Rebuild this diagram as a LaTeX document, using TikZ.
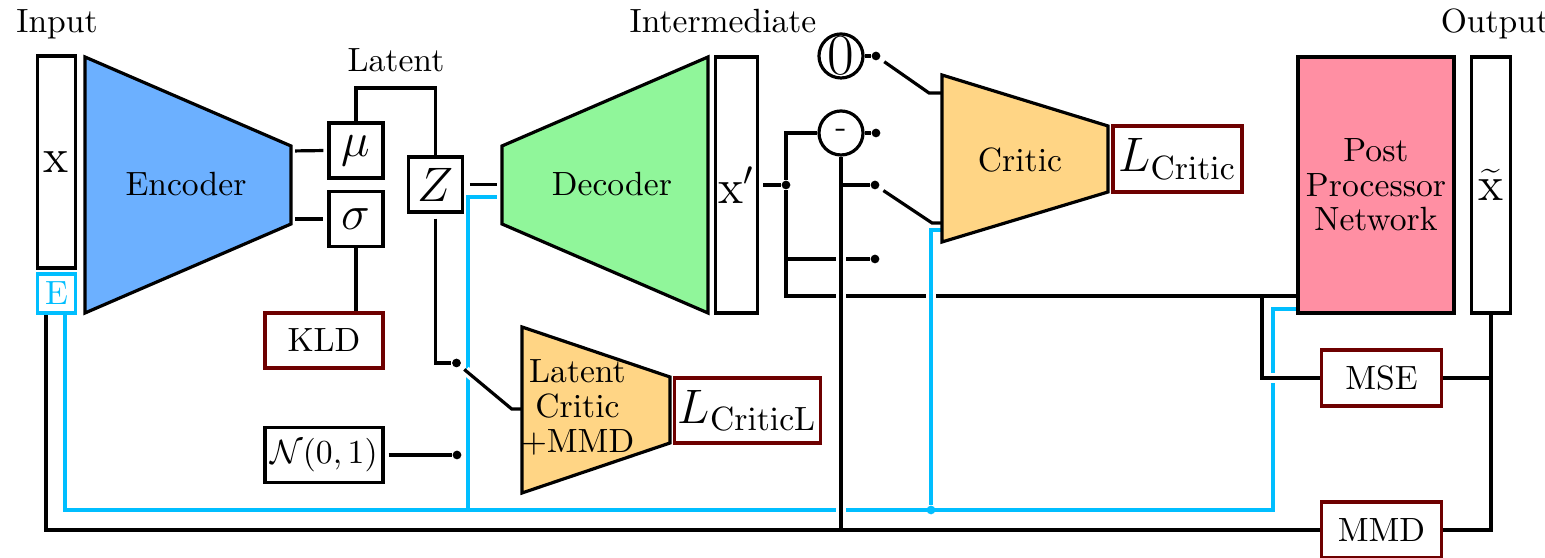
\documentclass[tikz,border=0pt]{standalone}
\usetikzlibrary{positioning}
\definecolor{encblue}{RGB}{108,176,255}
\definecolor{decgreen}{RGB}{144,246,154}
\definecolor{critorange}{RGB}{255,213,133}
\definecolor{pppink}{RGB}{255,143,163}
\definecolor{skyline}{RGB}{0,190,255}
\definecolor{lossred}{RGB}{110,0,0}
\pgfdeclarelayer{wires}
\pgfsetlayers{wires,main}
\begin{document}
\begin{tikzpicture}[x=0.2976pt, y=-0.2976pt]
    % 定义样式
    \tikzstyle{box}=[draw, line width=0.95pt, inner sep=1pt]
    \tikzstyle{varbox}=[box, minimum width=16.1pt, minimum height=16.4pt, font=\Large]
    \tikzstyle{lossbox}=[draw=lossred, line width=0.95pt, inner sep=1pt]
    \tikzstyle{block}=[draw, line width=0.95pt]
    \tikzstyle{opcirc}=[draw, line width=0.95pt, circle, minimum size=13.1pt, inner sep=-1pt]
    \tikzstyle{dot}=[circle, fill, inner sep=0pt, minimum size=2.6pt]
    \tikzstyle{heading}=[anchor=base]
    \tikzstyle{wire}=[line width=0.95pt]
    \tikzstyle{ewire}=[line width=0.95pt, skyline]
    \tikzstyle{bridge}=[preaction={draw=white, line width=2.8pt, shorten <=2pt, shorten >=2pt}]

    \useasboundingbox (0,0) rectangle (1545,558);

    % 输入
    \node[heading] (inlab) at (57,33) {Input};
    \node[box, minimum width=11.4pt, minimum height=63.1pt] (xin) at (56.5,162) {\raisebox{-3pt}{\Large x}};
    \node[box, draw=skyline, text=skyline, minimum width=11.4pt, minimum height=11.6pt] (eps) at (56.5,293.5) {E};
    \coordinate (xB) at (46,313);
    \coordinate (eB) at (65,313);

    % 编码器
    \draw[block, fill=encblue] (85,57) -- (291,146) -- (291,224) -- (85,313) -- cycle;
    \node (enc) at (186,184) {Encoder};
    \coordinate (encmu) at (291,151);
    \coordinate (encsig) at (291,219);

    % 隐变量
    \node[heading] (latlab) at (396,72) {Latent};
    \node[varbox] (mu) at (356,150.5) {$\mu$};
    \node[varbox] (sig) at (356,219) {$\sigma$};
    \node[varbox] (zz) at (435.5,184.5) {$Z$};
    \coordinate (latbend) at (396,88);
    \node[lossbox, minimum width=35.1pt, minimum height=16.4pt] (kld) at (324,340.5) {KLD};
    \node[box, minimum width=35.1pt, minimum height=16.4pt] (norm) at (324,455) {$\mathcal{N}(0,1)$};

    % 解码器
    \draw[block, fill=decgreen] (502,146) -- (708,57) -- (708,313) -- (502,224) -- cycle;
    \node (dec) at (612,184) {Decoder};
    \coordinate (decin) at (502,184.5);
    \coordinate (decE) at (502,197);
    \coordinate (ejoin) at (468,510);
    \node[heading] (midlab) at (723,33) {Intermediate};
    \node[box, minimum width=11.6pt, minimum height=76.2pt] (xmid) at (736.5,185) {\Large x$'$};

    % 判别器的输入开关
    \node[opcirc] (zeroop) at (841,56) {\LARGE 0};
    \node[opcirc] (subop) at (841,133) {-};
    \node[dot] (xj) at (786,185) {};
    \node[dot] (d0) at (876,56) {};
    \node[dot] (d1) at (876,133) {};
    \node[dot] (d2) at (875,185) {};
    \node[dot] (d3) at (875,259) {};
    \coordinate (xlow) at (786,296);
    \coordinate (sbot) at (841,530);
    \coordinate (bl1) at (929,93);
    \coordinate (bl2) at (932,223);

    % Critic
    \draw[block, fill=critorange] (942,75) -- (1108,126) -- (1108,192) -- (942,242) -- cycle;
    \node (crit) at (1020,160) {Critic};
    \coordinate (crin1) at (942,93);
    \coordinate (crin2) at (942,223);
    \coordinate (crin3) at (942,230);
    \node[lossbox, minimum width=38.4pt, minimum height=19.6pt] (lcrit) at (1177.5,159) {\Large $L_{\mathrm{Critic}}$};

    % Latent critic
    \draw[block, fill=critorange] (522,327) -- (670,377) -- (670,443) -- (522,493) -- cycle;
    \node[align=center, font=\fontsize{10}{10.4}\selectfont] (lcr) at (577.5,407) {Latent\\Critic\\+MMD};
    \node[lossbox, minimum width=42pt, minimum height=19.3pt] (lcritl) at (747.5,410.5) {\Large $L_{\mathrm{CriticL}}$};
    \node[dot] (dz) at (456.5,363) {};
    \node[dot] (dn) at (457,455) {};
    \coordinate (bll) at (511.7,409);
    \coordinate (lcin) at (522,409);

    % 后处理网络与输出
    \node[box, fill=pppink, minimum width=46.4pt, minimum height=76.2pt, align=center, font=\fontsize{10}{10.3}\selectfont] (ppn) at (1376,185) {Post\\Processor\\Network};
    \node[box, minimum width=11.6pt, minimum height=76.2pt] (xout) at (1491,185) {\Large $\widetilde{\mathrm{x}}$};
    \node[heading] (outlab) at (1495,33) {Output};
    \node[lossbox, minimum width=35.7pt, minimum height=16.7pt] (mse) at (1381.5,378) {MSE};
    \node[lossbox, minimum width=35.7pt, minimum height=16.7pt] (mmd) at (1381.5,530) {MMD};
    \coordinate (ppnX) at (1298,296);
    \coordinate (ppnE) at (1298,309);
    \coordinate (pjoin) at (1262,296);
    \coordinate (ebend) at (1273,510);
    \node[dot, skyline] (cdot) at (931,510) {};

    \begin{pgfonlayer}{wires}
    % 编码器 -> 隐变量
    \draw[wire, shorten <=1.2pt, shorten >=1.2pt] (encmu) -- (mu.west);
    \draw[wire, shorten <=1.2pt, shorten >=1.2pt] (encsig) -- (sig.west);
    \draw[wire] (mu.north) |- (latbend) -| (zz.north);
    \draw[wire] (sig.south) -- (sig.south |- kld.north);
    \draw[wire, shorten <=1.7pt, shorten >=1.5pt] (zz.east) -- (decin);
    \draw[wire, shorten <=1.5pt] (zz.south) |- (dz);
    \draw[wire, shorten <=1.2pt] (norm.east) -- (dn);

    % x' 的分支
    \draw[wire, shorten <=1.2pt] (xmid.east) -- (xj);
    \draw[wire] (xj) |- (subop.west);
    \draw[wire] (xj) |- (d3);
    \draw[wire] (xj) -- (xlow) -- (ppnX);
    \draw[wire] (zeroop.east) -- (d0);
    \draw[wire] (subop.east) -- (d1);
    \draw[wire, shorten <=1.5pt] (d0) -- (bl1) -- (crin1);
    \draw[wire, shorten <=1.5pt] (d2) -- (bl2) -- (crin2);

    % E 的连线
    \draw[ewire, bridge] (crin3) -| (cdot);
    \draw[ewire] (eB) |- (ebend) |- (ppnE);
    \draw[ewire, shorten <=1.5pt] (decE) -| (ejoin);

    % 其余连线
    \draw[wire, bridge] (subop.south) -- (sbot);
    \draw[wire] (subop.south |- d2) -- (d2);
    \draw[wire, bridge] (pjoin) |- (mse.west);
    \draw[wire, bridge, shorten <=1.5pt] (dz) -- (bll) -- (lcin);
    \draw[wire] (xB) |- (mmd.west);
    \draw[wire] (mse.east) -- (mse.east -| xout.south);
    \draw[wire] (mmd.east) -| (xout.south);
    \end{pgfonlayer}
\end{tikzpicture}
\end{document}
